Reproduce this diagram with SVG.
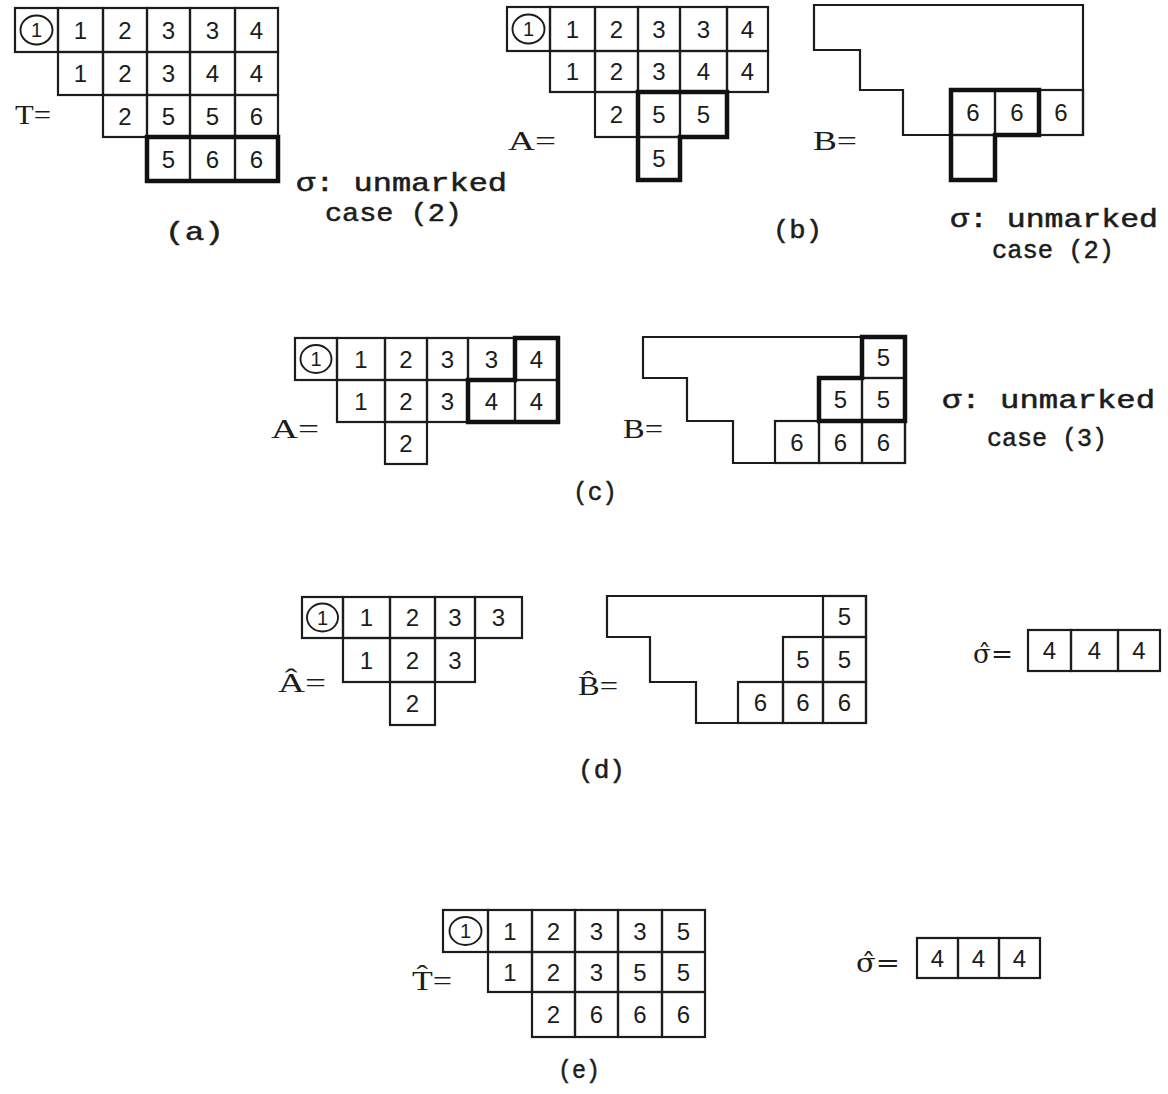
<svg xmlns="http://www.w3.org/2000/svg" width="1168" height="1094" viewBox="0 0 1168 1094">
<style>
.c{fill:none;stroke:#1c1c1c;stroke-width:2.2}
.k{fill:none;stroke:#111;stroke-width:4.5;stroke-linejoin:miter}
.o{fill:none;stroke:#1c1c1c;stroke-width:1.9}
.d{font-family:"Liberation Sans",Arial,sans-serif;font-size:24px;text-anchor:middle;fill:#1c1c1c}
.s{font-family:"Liberation Sans",Arial,sans-serif;font-size:20px;text-anchor:middle;fill:#1c1c1c}
.l{font-family:"Liberation Serif","DejaVu Serif",serif;font-size:28px;fill:#1c1c1c}
.g{font-family:"DejaVu Serif","Liberation Serif",serif;font-size:26px;fill:#1c1c1c}
.m{font-family:"Liberation Mono","DejaVu Sans Mono",monospace;font-size:25px;fill:#1c1c1c;stroke:#1c1c1c;stroke-width:0.5}
</style>
<rect width="1168" height="1094" fill="#fff"/>

<!-- (a) -->
<g id="panel-a">
<g id="tableau-T">
<rect class="c" x="15" y="8" width="43" height="44"/><rect class="c" x="58" y="8" width="45" height="44"/><rect class="c" x="103" y="8" width="44" height="44"/><rect class="c" x="147" y="8" width="43" height="44"/><rect class="c" x="190" y="8" width="45" height="44"/><rect class="c" x="235" y="8" width="43" height="44"/>
<rect class="c" x="58" y="52" width="45" height="43"/><rect class="c" x="103" y="52" width="44" height="43"/><rect class="c" x="147" y="52" width="43" height="43"/><rect class="c" x="190" y="52" width="45" height="43"/><rect class="c" x="235" y="52" width="43" height="43"/>
<rect class="c" x="103" y="95" width="44" height="42"/><rect class="c" x="147" y="95" width="43" height="42"/><rect class="c" x="190" y="95" width="45" height="42"/><rect class="c" x="235" y="95" width="43" height="42"/>
<rect class="c" x="147" y="137" width="43" height="44"/><rect class="c" x="190" y="137" width="45" height="44"/><rect class="c" x="235" y="137" width="43" height="44"/>
<rect class="k" x="147" y="137" width="131" height="44"/>
<ellipse class="o" cx="36.5" cy="30" rx="16" ry="14.5"/><text class="s" x="36.5" y="37">1</text>
<text class="d" x="80.5" y="38.5">1</text><text class="d" x="125" y="38.5">2</text><text class="d" x="168.5" y="38.5">3</text><text class="d" x="212.5" y="38.5">3</text><text class="d" x="256.5" y="38.5">4</text>
<text class="d" x="80.5" y="82">1</text><text class="d" x="125" y="82">2</text><text class="d" x="168.5" y="82">3</text><text class="d" x="212.5" y="82">4</text><text class="d" x="256.5" y="82">4</text>
<text class="d" x="125" y="124.5">2</text><text class="d" x="168.5" y="124.5">5</text><text class="d" x="212.5" y="124.5">5</text><text class="d" x="256.5" y="124.5">6</text>
<text class="d" x="168.5" y="167.5">5</text><text class="d" x="212.5" y="167.5">6</text><text class="d" x="256.5" y="167.5">6</text>
</g>
<text class="l" x="15" y="124" textLength="36" lengthAdjust="spacingAndGlyphs">T=</text>
<text class="m" x="296" y="191" textLength="211" lengthAdjust="spacingAndGlyphs">σ: unmarked</text>
<text class="m" x="325" y="221" textLength="137" lengthAdjust="spacingAndGlyphs">case (2)</text>
<text class="m" x="165" y="240" textLength="59" lengthAdjust="spacingAndGlyphs">(a)</text>
</g>

<!-- (b) -->
<g id="panel-b">
<g id="tableau-A-b">
<rect class="c" x="507" y="7" width="43" height="44"/><rect class="c" x="550" y="7" width="45" height="44"/><rect class="c" x="595" y="7" width="43" height="44"/><rect class="c" x="638" y="7" width="42" height="44"/><rect class="c" x="680" y="7" width="47" height="44"/><rect class="c" x="727" y="7" width="41" height="44"/>
<rect class="c" x="550" y="51" width="45" height="41"/><rect class="c" x="595" y="51" width="43" height="41"/><rect class="c" x="638" y="51" width="42" height="41"/><rect class="c" x="680" y="51" width="47" height="41"/><rect class="c" x="727" y="51" width="41" height="41"/>
<rect class="c" x="595" y="92" width="43" height="45"/><rect class="c" x="638" y="92" width="42" height="45"/><rect class="c" x="680" y="92" width="47" height="45"/>
<rect class="c" x="638" y="137" width="42" height="43"/>
<path class="k" d="M638,92 H727 V137 H680 V180 H638 Z"/>
<ellipse class="o" cx="528.5" cy="29" rx="16" ry="14.5"/><text class="s" x="528.5" y="36">1</text>
<text class="d" x="572.5" y="37.5">1</text><text class="d" x="616.5" y="37.5">2</text><text class="d" x="659" y="37.5">3</text><text class="d" x="703.5" y="37.5">3</text><text class="d" x="747.5" y="37.5">4</text>
<text class="d" x="572.5" y="80">1</text><text class="d" x="616.5" y="80">2</text><text class="d" x="659" y="80">3</text><text class="d" x="703.5" y="80">4</text><text class="d" x="747.5" y="80">4</text>
<text class="d" x="616.5" y="123">2</text><text class="d" x="659" y="123">5</text><text class="d" x="703.5" y="123">5</text>
<text class="d" x="659" y="167">5</text>
</g>
<text class="l" x="508" y="150" textLength="48" lengthAdjust="spacingAndGlyphs">A=</text>
<g id="tableau-B-b">
<path class="c" d="M814,5 H1083 V135 H903 V90 H860 V50 H814 Z"/>
<rect class="c" x="951" y="90" width="44" height="45"/><rect class="c" x="995" y="90" width="44" height="45"/><rect class="c" x="1039" y="90" width="44" height="45"/>
<rect class="c" x="951" y="135" width="44" height="45"/>
<path class="k" d="M951,90 H1039 V135 H995 V180 H951 Z"/>
<text class="d" x="973" y="121">6</text><text class="d" x="1017" y="121">6</text><text class="d" x="1061" y="121">6</text>
</g>
<text class="l" x="813" y="150" textLength="44" lengthAdjust="spacingAndGlyphs">B=</text>
<text class="m" x="773" y="238" textLength="49" lengthAdjust="spacingAndGlyphs">(b)</text>
<text class="m" x="950" y="227" textLength="208" lengthAdjust="spacingAndGlyphs">σ: unmarked</text>
<text class="m" x="992" y="258" textLength="122" lengthAdjust="spacingAndGlyphs">case (2)</text>
</g>

<!-- (c) -->
<g id="panel-c">
<g id="tableau-A-c">
<rect class="c" x="295" y="338" width="42" height="42"/><rect class="c" x="337" y="338" width="48" height="42"/><rect class="c" x="385" y="338" width="42" height="42"/><rect class="c" x="427" y="338" width="41" height="42"/><rect class="c" x="468" y="338" width="47" height="42"/><rect class="c" x="515" y="338" width="43" height="42"/>
<rect class="c" x="337" y="380" width="48" height="42"/><rect class="c" x="385" y="380" width="42" height="42"/><rect class="c" x="427" y="380" width="41" height="42"/><rect class="c" x="468" y="380" width="47" height="42"/><rect class="c" x="515" y="380" width="43" height="42"/>
<rect class="c" x="385" y="422" width="42" height="42"/>
<path class="k" d="M515,338 H558 V422 H468 V380 H515 Z"/>
<ellipse class="o" cx="316" cy="359" rx="15.5" ry="14"/><text class="s" x="316" y="366">1</text>
<text class="d" x="361" y="367.5">1</text><text class="d" x="406" y="367.5">2</text><text class="d" x="447.5" y="367.5">3</text><text class="d" x="491.5" y="367.5">3</text><text class="d" x="536.5" y="367.5">4</text>
<text class="d" x="361" y="409.5">1</text><text class="d" x="406" y="409.5">2</text><text class="d" x="447.5" y="409.5">3</text><text class="d" x="491.5" y="409.5">4</text><text class="d" x="536.5" y="409.5">4</text>
<text class="d" x="406" y="451.5">2</text>
</g>
<text class="l" x="271" y="438" textLength="48" lengthAdjust="spacingAndGlyphs">A=</text>
<g id="tableau-B-c">
<path class="c" d="M643,337 H905 V463 H733 V421 H687 V378 H643 Z"/>
<rect class="c" x="862" y="337" width="43" height="41"/>
<rect class="c" x="819" y="378" width="43" height="43"/><rect class="c" x="862" y="378" width="43" height="43"/>
<rect class="c" x="775" y="421" width="44" height="42"/><rect class="c" x="819" y="421" width="43" height="42"/><rect class="c" x="862" y="421" width="43" height="42"/>
<path class="k" d="M862,337 H905 V421 H819 V378 H862 Z"/>
<text class="d" x="883.5" y="366">5</text>
<text class="d" x="840.5" y="408">5</text><text class="d" x="883.5" y="408">5</text>
<text class="d" x="797" y="450.5">6</text><text class="d" x="840.5" y="450.5">6</text><text class="d" x="883.5" y="450.5">6</text>
</g>
<text class="l" x="623" y="438" textLength="40" lengthAdjust="spacingAndGlyphs">B=</text>
<text class="m" x="573" y="500" textLength="44" lengthAdjust="spacingAndGlyphs">(c)</text>
<text class="m" x="942" y="408" textLength="213" lengthAdjust="spacingAndGlyphs">σ: unmarked</text>
<text class="m" x="987" y="446" textLength="120" lengthAdjust="spacingAndGlyphs">case (3)</text>
</g>

<!-- (d) -->
<g id="panel-d">
<g id="tableau-Ahat">
<rect class="c" x="302" y="597" width="41" height="41"/><rect class="c" x="343" y="597" width="47" height="41"/><rect class="c" x="390" y="597" width="45" height="41"/><rect class="c" x="435" y="597" width="40" height="41"/><rect class="c" x="475" y="597" width="47" height="41"/>
<rect class="c" x="343" y="638" width="47" height="44"/><rect class="c" x="390" y="638" width="45" height="44"/><rect class="c" x="435" y="638" width="40" height="44"/>
<rect class="c" x="390" y="682" width="45" height="43"/>
<ellipse class="o" cx="322.5" cy="617.5" rx="15.5" ry="14"/><text class="s" x="322.5" y="624.5">1</text>
<text class="d" x="366.5" y="626">1</text><text class="d" x="412.5" y="626">2</text><text class="d" x="455" y="626">3</text><text class="d" x="498.5" y="626">3</text>
<text class="d" x="366.5" y="668.5">1</text><text class="d" x="412.5" y="668.5">2</text><text class="d" x="455" y="668.5">3</text>
<text class="d" x="412.5" y="712">2</text>
</g>
<text class="l" x="278" y="692" textLength="48" lengthAdjust="spacingAndGlyphs">Â=</text>
<g id="tableau-Bhat">
<path class="c" d="M607,596 H866 V723 H696 V682 H650 V637 H607 Z"/>
<rect class="c" x="823" y="596" width="43" height="41"/>
<rect class="c" x="783" y="637" width="40" height="45"/><rect class="c" x="823" y="637" width="43" height="45"/>
<rect class="c" x="738" y="682" width="45" height="41"/><rect class="c" x="783" y="682" width="40" height="41"/><rect class="c" x="823" y="682" width="43" height="41"/>
<text class="d" x="844.5" y="625">5</text>
<text class="d" x="803" y="668">5</text><text class="d" x="844.5" y="668">5</text>
<text class="d" x="760.5" y="711">6</text><text class="d" x="803" y="711">6</text><text class="d" x="844.5" y="711">6</text>
</g>
<text class="l" x="578" y="695" textLength="40" lengthAdjust="spacingAndGlyphs">B̂=</text>
<text class="m" x="578" y="778" textLength="47" lengthAdjust="spacingAndGlyphs">(d)</text>
<g id="sigmahat-d">
<text class="g" x="973" y="663" textLength="40" lengthAdjust="spacingAndGlyphs">σ̂=</text>
<rect class="c" x="1028" y="630" width="43" height="41"/><rect class="c" x="1071" y="630" width="47" height="41"/><rect class="c" x="1118" y="630" width="42" height="41"/>
<text class="d" x="1049.5" y="659">4</text><text class="d" x="1094.5" y="659">4</text><text class="d" x="1139" y="659">4</text>
</g>
</g>

<!-- (e) -->
<g id="panel-e">
<g id="tableau-That">
<rect class="c" x="443" y="910" width="45" height="42"/><rect class="c" x="488" y="910" width="44" height="42"/><rect class="c" x="532" y="910" width="43" height="42"/><rect class="c" x="575" y="910" width="43" height="42"/><rect class="c" x="618" y="910" width="44" height="42"/><rect class="c" x="662" y="910" width="43" height="42"/>
<rect class="c" x="488" y="952" width="44" height="40"/><rect class="c" x="532" y="952" width="43" height="40"/><rect class="c" x="575" y="952" width="43" height="40"/><rect class="c" x="618" y="952" width="44" height="40"/><rect class="c" x="662" y="952" width="43" height="40"/>
<rect class="c" x="532" y="992" width="43" height="45"/><rect class="c" x="575" y="992" width="43" height="45"/><rect class="c" x="618" y="992" width="44" height="45"/><rect class="c" x="662" y="992" width="43" height="45"/>
<ellipse class="o" cx="465.5" cy="931" rx="16" ry="14"/><text class="s" x="465.5" y="938">1</text>
<text class="d" x="510" y="939.5">1</text><text class="d" x="553.5" y="939.5">2</text><text class="d" x="596.5" y="939.5">3</text><text class="d" x="640" y="939.5">3</text><text class="d" x="683.5" y="939.5">5</text>
<text class="d" x="510" y="980.5">1</text><text class="d" x="553.5" y="980.5">2</text><text class="d" x="596.5" y="980.5">3</text><text class="d" x="640" y="980.5">5</text><text class="d" x="683.5" y="980.5">5</text>
<text class="d" x="553.5" y="1023">2</text><text class="d" x="596.5" y="1023">6</text><text class="d" x="640" y="1023">6</text><text class="d" x="683.5" y="1023">6</text>
</g>
<text class="l" x="412" y="990" textLength="40" lengthAdjust="spacingAndGlyphs">T̂=</text>
<g id="sigmahat-e">
<text class="g" x="856" y="972" textLength="44" lengthAdjust="spacingAndGlyphs">σ̂=</text>
<rect class="c" x="917" y="938" width="41" height="40"/><rect class="c" x="958" y="938" width="41" height="40"/><rect class="c" x="999" y="938" width="41" height="40"/>
<text class="d" x="937.5" y="966.5">4</text><text class="d" x="978.5" y="966.5">4</text><text class="d" x="1019.5" y="966.5">4</text>
</g>
<text class="m" x="558" y="1078" textLength="42" lengthAdjust="spacingAndGlyphs">(e)</text>
</g>
</svg>
